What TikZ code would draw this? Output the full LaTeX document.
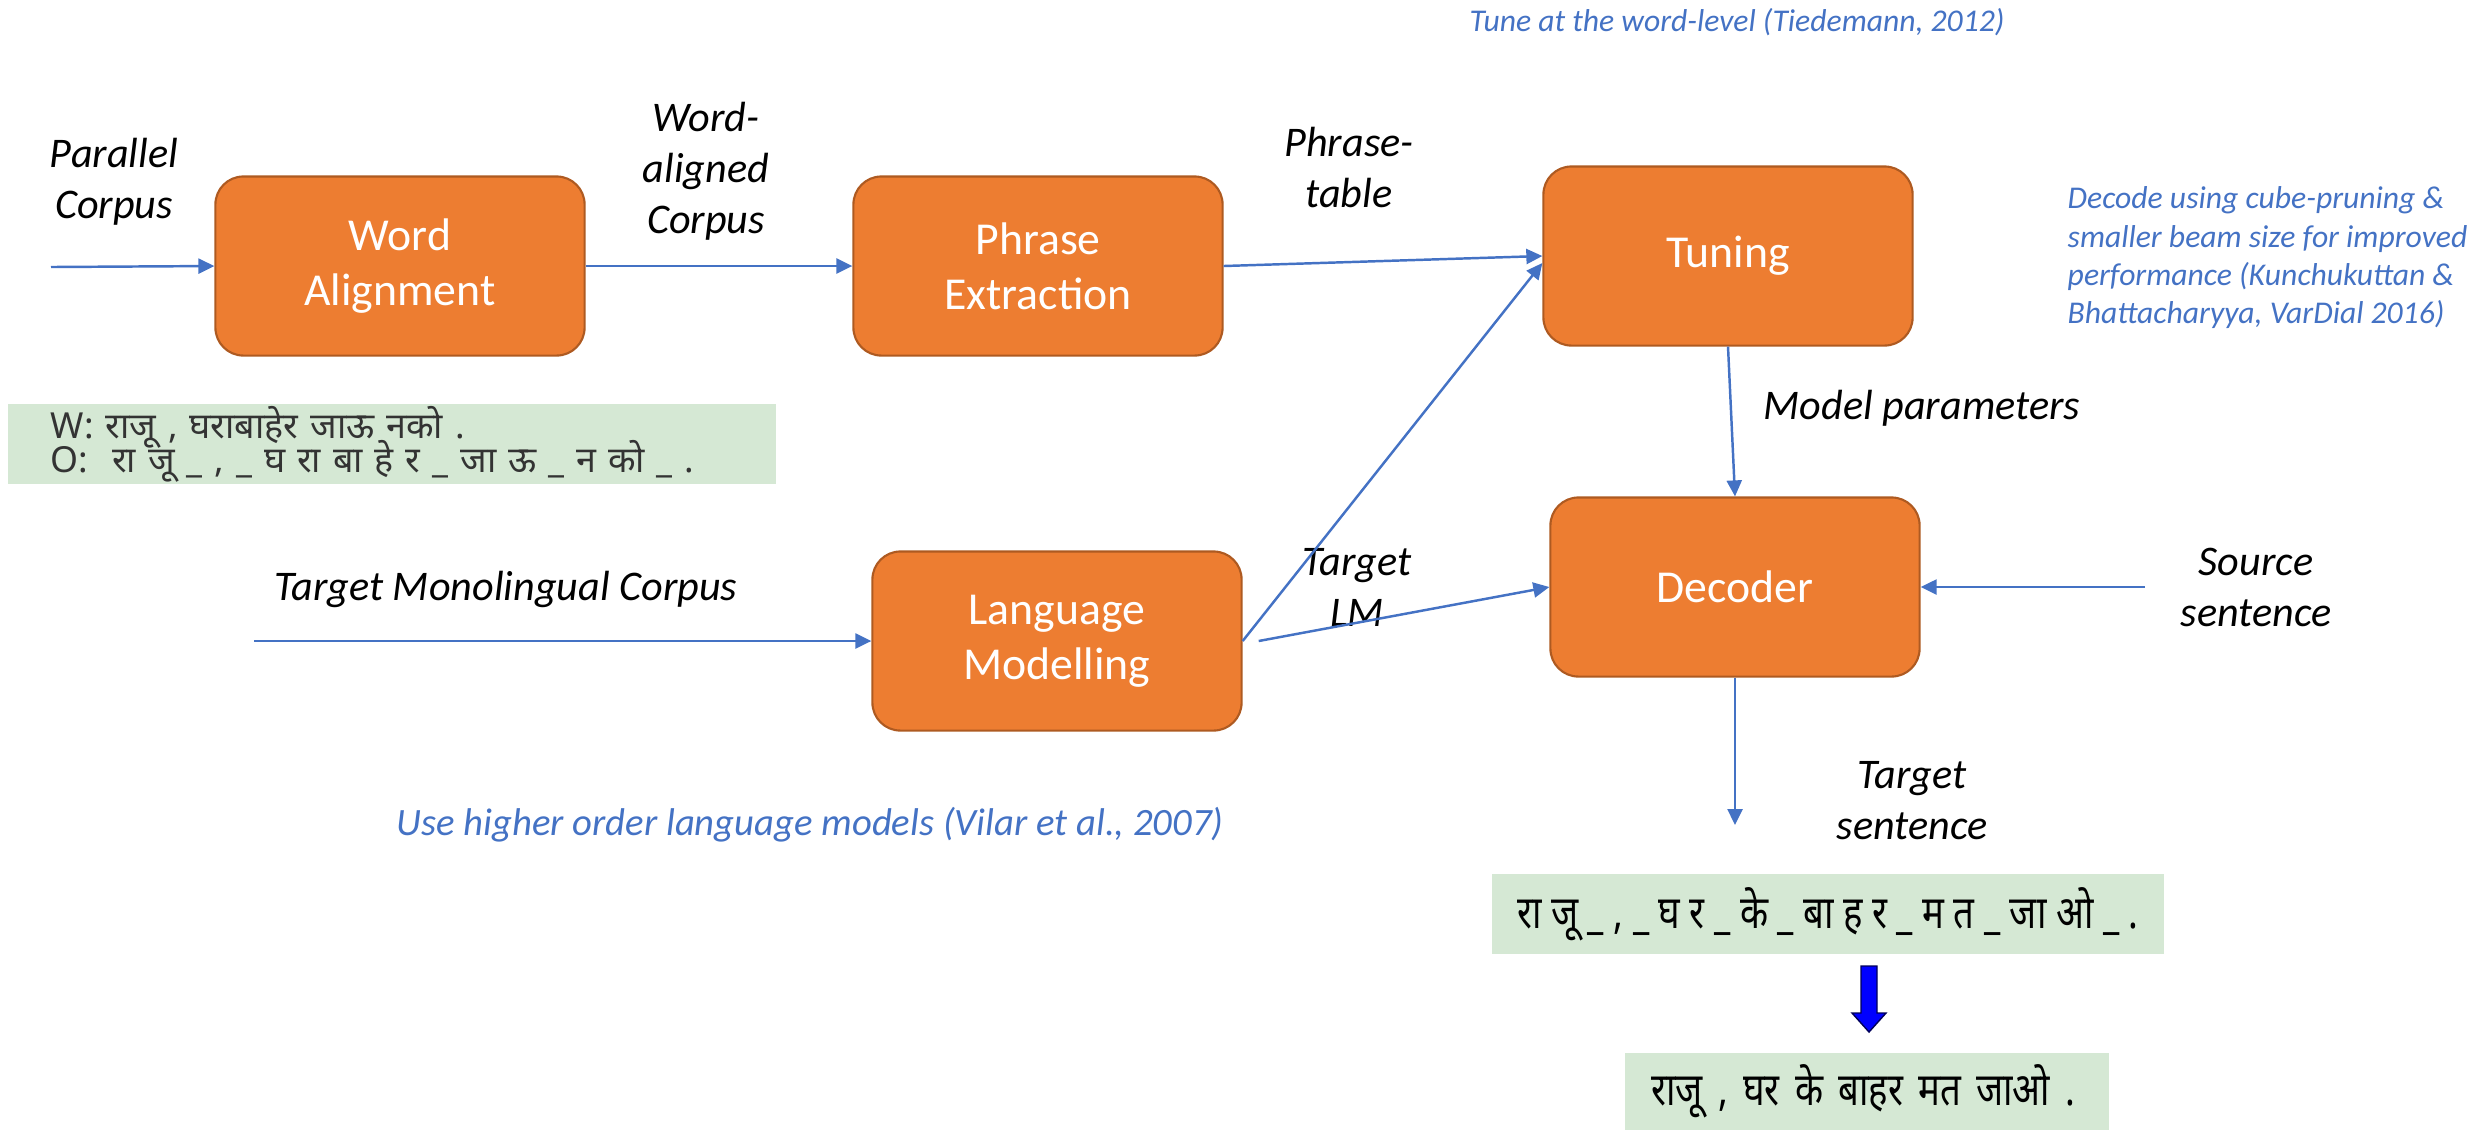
\documentclass[tikz,border=0pt]{standalone}
\usepackage{fontspec}
\setmainfont{Carlito}
\newfontfamily\deva[Script=Devanagari]{Noto Sans}
\newfontfamily\devanarrow[Script=Devanagari,FakeStretch=0.8]{Noto Sans}
\newcommand{\tightlines}{\lineskiplimit=-20pt\relax}
\usetikzlibrary{arrows.meta}
\definecolor{stageorange}{HTML}{ED7D31}
\definecolor{stageedge}{HTML}{AE5A21}
\definecolor{linkblue}{HTML}{4472C4}
\definecolor{samplegreen}{HTML}{D5E8D4}

\begin{document}
\begin{tikzpicture}[x=0.01cm,y=-0.01cm]
      \tikzstyle{stage}=[draw=stageedge,fill=stageorange,line width=0.6pt,
                         rounded corners=0.28cm,minimum width=3.69cm,
                         minimum height=1.79cm,align=center,text=white,
                         font=\fontsize{13}{15.6}\selectfont]
      \tikzstyle{corpus}=[align=center,inner sep=0pt,
                          font=\fontsize{12}{14.5}\selectfont\itshape]
      \tikzstyle{note}=[align=center,inner sep=0pt,text=linkblue,
                        font=\fontsize{9}{10.9}\selectfont\itshape]
      \tikzstyle{link}=[draw=linkblue,line width=0.7pt,
                        -{Triangle[length=0.16cm,width=0.15cm]}]
      \tikzstyle{sample}=[fill=samplegreen,inner ysep=0pt]
      \useasboundingbox (0,0) rectangle (2488,1129);
      \node (align) [stage] at (400,266) {Word\\Alignment};
      \node (extract) [stage] at (1038,266) {Phrase\\Extraction};
      \node (tuning) [stage] at (1728,256) {Tuning};
      \node (decoder) [stage] at (1735,587) {Decoder};
      \node (langmodel) [stage] at (1057,641) {Language\\Modelling};
      \coordinate (parin) at (51,267);
      \coordinate (monoin) at (254,641);
      \coordinate (srcin) at (2145,587);
      \coordinate (tgtout) at (1735,825);
      \node (parlabel) [corpus] at (114,182) {Parallel\\Corpus};
      \node (walabel) [corpus] at (706,171) {Word-\\aligned\\Corpus};
      \node (ptlabel) [corpus] at (1349,167) {Phrase-\\table};
      \node (mplabel) [corpus,anchor=west] at (1763,408) {Model parameters};
      \node (monolabel) [corpus] at (506,589) {Target Monolingual Corpus};
      \node (lmlabel) [corpus] at (1357,587) {Target\\LM};
      \node (srclabel) [corpus] at (2256,587) {Source\\sentence};
      \node (tgtlabel) [corpus] at (1912,801) {Target\\sentence};
      \node (tunenote) [note] at (1737,22) {Tune at the word-level (Tiedemann, 2012)};
      \node (decodenote) [note,align=left,anchor=west] at (2067,258)
            {Decode using cube-pruning \&\\smaller beam size for improved\\
             performance (Kunchukuttan \&\\Bhattacharyya, VarDial 2016)};
      \node (lmnote) [note,font=\fontsize{11}{13}\selectfont\itshape] at (810,825)
            {Use higher order language models (Vilar et al., 2007)};
      \node (wordseg) [sample,minimum width=7.68cm,minimum height=0.79cm,
                       text width=6.82cm,inner xsep=0.43cm,align=left,text=black!80,
                       font=\deva\fontsize{10.2}{9.6}\selectfont\tightlines] at (392,444)
            {W: राजू , घराबाहेर जाऊ नको .\\O:\ \ रा जू \_ , \_ घ रा बा हे र \_ जा ऊ \_ न को \_ .};
      \node (segout) [sample,minimum width=6.71cm,minimum height=0.80cm,
                      font=\devanarrow\fontsize{13}{15}\selectfont] at (1828,914)
            {रा जू \_ , \_ घ र \_ के \_ बा ह र \_ म त \_ जा ओ \_ .};
      \node (finalout) [sample,minimum width=4.83cm,minimum height=0.77cm,
                        text width=4.31cm,inner xsep=0.26cm,align=left,
                        font=\devanarrow\fontsize{13}{15}\selectfont] at (1867,1091)
            {राजू , घर के बाहर मत जाओ .};
      \draw[link] (parin) -- (align.west);
      \draw[link] (align.east) -- (extract.west);
      \draw[link] (extract.east) -- (tuning.west);
      \draw[link] (langmodel.east) -- ([yshift=-0.07cm]tuning.west);
      \draw[link] ([xshift=0.16cm]langmodel.east) -- (decoder.west);
      \draw[link] (monoin) -- (langmodel.west);
      \draw[link] (tuning.south) -- (decoder.north);
      \draw[link] (srcin) -- (decoder.east);
      \draw[link] (decoder.south) -- (tgtout);
      \filldraw[fill=blue,draw=blue!35!black,line width=0.4pt]
            (1861,966) -- (1877,966) -- (1877,1013) -- (1886,1013)
            -- (1869,1032) -- (1852,1013) -- (1861,1013) -- cycle;
\end{tikzpicture}
\end{document}
